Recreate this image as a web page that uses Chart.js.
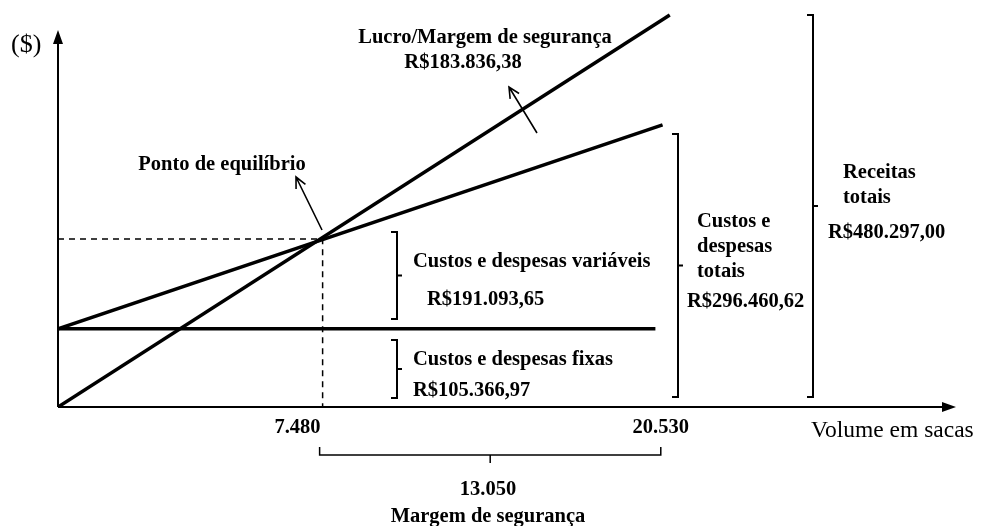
<!DOCTYPE html>
<html>
<head>
<meta charset="utf-8">
<script src="https://cdn.jsdelivr.net/npm/chart.js@4.4.1/dist/chart.umd.min.js"></script>
<style>
  html, body { margin: 0; padding: 0; background: #fff; }
</style>
</head>
<body>
<canvas id="chart" width="981" height="526"></canvas>
<script>
// schematic units (x: 0-100 along the volume axis, y: 0-100 along the $ axis)
const volumeTicks = [29.5, 67.2];
const volumeTickLabels = ['7.480', '20.530'];
const revenueX = [0, 68.2];
const revenueY = [0, 96.3];
const totalCostX = [0, 67.4];
const totalCostY = [19.2, 69.3];
const fixedCostX = [0, 66.6];
const fixedCostY = [19.2, 19.2];
const breakEven = [29.5, 41.3];

const toPoints = (xs, ys) => xs.map((x, i) => ({ x: x, y: ys[i] }));

const SERIF = '"Liberation Serif", "Times New Roman", serif';

// text annotations (pixel layout)
const notes = [
    { t: '($)', x: 11, y: 45, size: 26, bold: false },
    { t: 'Lucro/Margem de segurança', x: 485, y: 38, align: 'center' },
    { t: 'R$183.836,38', x: 463, y: 63, align: 'center' },
    { t: 'Ponto de equilíbrio', x: 222, y: 165, align: 'center' },
    { t: 'Custos e despesas variáveis', x: 413, y: 262 },
    { t: 'R$191.093,65', x: 427, y: 300 },
    { t: 'Custos e despesas fixas', x: 413, y: 360 },
    { t: 'R$105.366,97', x: 413, y: 391 },
    { t: 'Custos e', x: 697, y: 222 },
    { t: 'despesas', x: 697, y: 247 },
    { t: 'totais', x: 697, y: 272 },
    { t: 'R$296.460,62', x: 687, y: 302 },
    { t: 'Receitas', x: 843, y: 173 },
    { t: 'totais', x: 843, y: 198 },
    { t: 'R$480.297,00', x: 828, y: 233 },
    { t: '13.050', x: 488, y: 490, align: 'center' },
    { t: 'Margem de segurança', x: 488, y: 517, align: 'center' },
    { t: 'Volume em sacas', x: 811, y: 431, size: 23.5, bold: false }
];

// brackets: x, top, bottom (pixels)
const brackets = [
    { x: 397, y1: 232, y2: 319 },
    { x: 397, y1: 340, y2: 398 },
    { x: 678, y1: 134, y2: 397 },
    { x: 813, y1: 15, y2: 397 }
];

function arrow(ctx, x1, y1, x2, y2) {
    const a = Math.atan2(y2 - y1, x2 - x1);
    ctx.beginPath();
    ctx.moveTo(x1, y1);
    ctx.lineTo(x2, y2);
    ctx.moveTo(x2 - 12 * Math.cos(a - 0.45), y2 - 12 * Math.sin(a - 0.45));
    ctx.lineTo(x2, y2);
    ctx.lineTo(x2 - 12 * Math.cos(a + 0.45), y2 - 12 * Math.sin(a + 0.45));
    ctx.stroke();
}

const diagram = {
    id: 'diagram',
    afterDatasetsDraw(chart) {
        const ctx = chart.ctx;
        const xs = chart.scales.x, ys = chart.scales.y;
        const x0 = xs.getPixelForValue(0), y0 = ys.getPixelForValue(0);
        ctx.save();
        ctx.strokeStyle = '#000';
        ctx.fillStyle = '#000';

        // axes with arrow heads
        ctx.lineWidth = 2;
        ctx.beginPath();
        ctx.moveTo(x0, y0); ctx.lineTo(945, y0);
        ctx.moveTo(x0, y0); ctx.lineTo(x0, 42);
        ctx.stroke();
        ctx.beginPath();
        ctx.moveTo(956, y0); ctx.lineTo(942, y0 - 5); ctx.lineTo(942, y0 + 5); ctx.closePath();
        ctx.moveTo(x0, 30); ctx.lineTo(x0 - 5, 44); ctx.lineTo(x0 + 5, 44); ctx.closePath();
        ctx.fill();

        // pointer arrows
        ctx.lineWidth = 1.6;
        arrow(ctx, 537, 133, 509, 87);
        arrow(ctx, 322, 230, 296, 177);

        // right-hand brackets
        ctx.lineWidth = 2;
        brackets.forEach(b => {
            const m = (b.y1 + b.y2) / 2;
            ctx.beginPath();
            ctx.moveTo(b.x - 6, b.y1); ctx.lineTo(b.x, b.y1); ctx.lineTo(b.x, b.y2); ctx.lineTo(b.x - 6, b.y2);
            ctx.moveTo(b.x, m); ctx.lineTo(b.x + 5, m);
            ctx.stroke();
        });

        // brace under the axis between the two ticks
        const bx1 = xs.getPixelForValue(volumeTicks[0]) - 3;
        const bx2 = xs.getPixelForValue(volumeTicks[1]);
        const bm = (bx1 + bx2) / 2;
        ctx.lineWidth = 1.5;
        ctx.beginPath();
        ctx.moveTo(bx1, 447); ctx.lineTo(bx1, 455); ctx.lineTo(bx2, 455); ctx.lineTo(bx2, 447);
        ctx.moveTo(bm, 455); ctx.lineTo(bm, 463);
        ctx.stroke();

        // volume tick labels
        ctx.textBaseline = 'middle';
        ctx.font = 'bold 20.5px ' + SERIF;
        volumeTicks.forEach((v, i) => {
            const px = xs.getPixelForValue(v);
            if (i === 0) {
                ctx.textAlign = 'right';
                ctx.fillText(volumeTickLabels[i], px - 2, 428);
            } else {
                ctx.textAlign = 'center';
                ctx.fillText(volumeTickLabels[i], px, 428);
            }
        });

        notes.forEach(n => {
            ctx.font = (n.bold === false ? '' : 'bold ') + (n.size || 20.5) + 'px ' + SERIF;
            ctx.textAlign = n.align || 'left';
            ctx.fillText(n.t, n.x, n.y);
        });
        ctx.restore();
    }
};

const lineStyle = {
    showLine: true,
    borderColor: '#000',
    borderWidth: 3.5,
    pointRadius: 0,
    fill: false
};

new Chart(document.getElementById('chart').getContext('2d'), {
    type: 'scatter',
    data: {
        datasets: [
            { ...lineStyle, label: 'Receitas totais', data: toPoints(revenueX, revenueY) },
            { ...lineStyle, label: 'Custos e despesas totais', data: toPoints(totalCostX, totalCostY) },
            { ...lineStyle, label: 'Custos e despesas fixas', data: toPoints(fixedCostX, fixedCostY) },
            {
                ...lineStyle,
                label: 'Ponto de equilíbrio',
                borderWidth: 1.5,
                borderDash: [6, 5],
                data: [
                    { x: 0, y: breakEven[1] },
                    { x: breakEven[0], y: breakEven[1] },
                    { x: breakEven[0], y: 0 }
                ]
            }
        ]
    },
    options: {
        responsive: false,
        animation: false,
        devicePixelRatio: 1,
        layout: { padding: { left: 58, right: 26, top: 0, bottom: 119 } },
        plugins: {
            legend: { display: false },
            tooltip: { enabled: false }
        },
        scales: {
            x: { type: 'linear', min: 0, max: 100, display: false },
            y: { type: 'linear', min: 0, max: 100, display: false }
        }
    },
    plugins: [diagram]
});
</script>
</body>
</html>
